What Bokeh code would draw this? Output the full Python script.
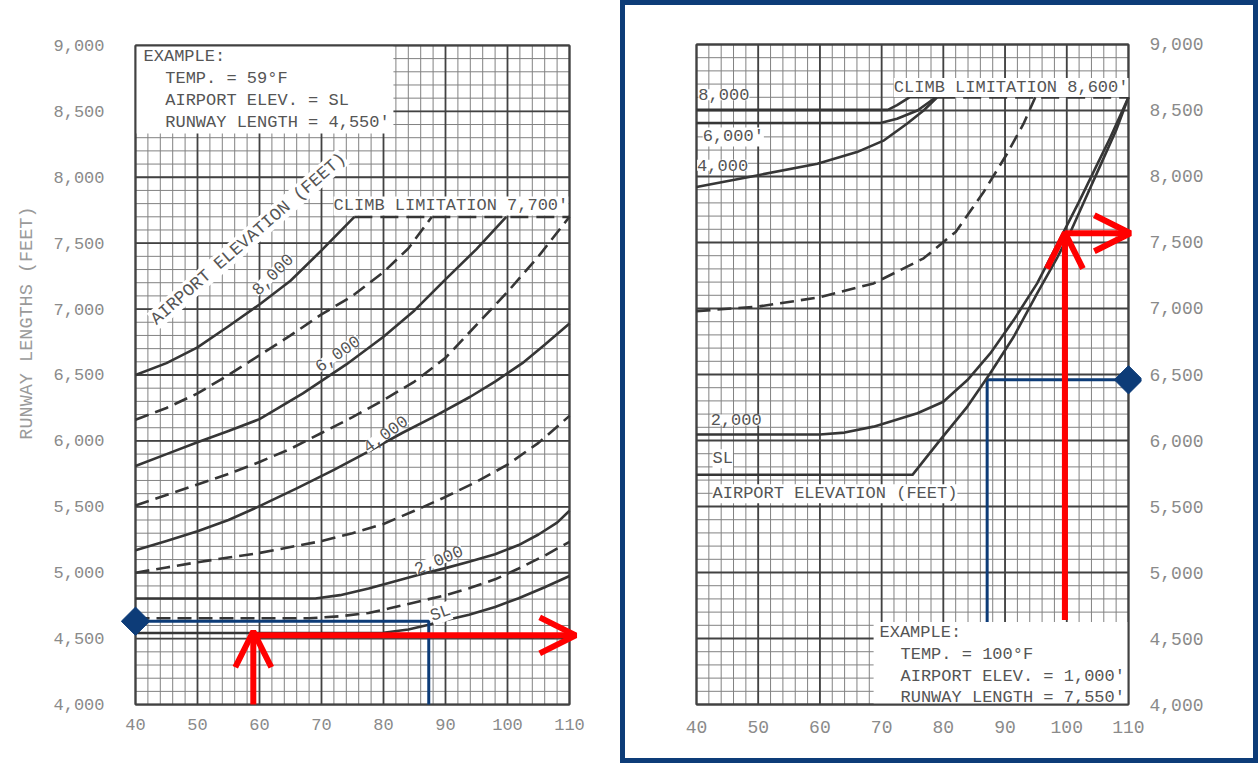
import numpy as np
from bokeh.plotting import figure
from bokeh.layouts import row
from bokeh.models import Label, Arrow, OpenHead, FixedTicker, NumeralTickFormatter, Title
from bokeh.embed import file_html
from bokeh.resources import INLINE

# ---------------- data ----------------
TEMP_TICKS = [40, 50, 60, 70, 80, 90, 100, 110]
LENGTH_TICKS = [4000, 4500, 5000, 5500, 6000, 6500, 7000, 7500, 8000, 8500, 9000]

# left chart : runway length (ft) vs temperature (F) per airport elevation
L_SL_TEMP = [40, 60, 80, 84, 87.3, 90, 93.8, 98, 101.8, 106, 110]
L_SL_LEN = [4543, 4543, 4545, 4570, 4606, 4640, 4682, 4740, 4807, 4890, 4975]
L_SLX_TEMP = [85, 110]
L_SLX_LEN = [4520, 4505]
L_1000_TEMP = [40, 55, 68, 73, 77.6, 81, 85.7, 90, 93.8, 98, 101.8, 106, 110]
L_1000_LEN = [4655, 4655, 4655, 4670, 4695, 4730, 4782, 4830, 4882, 4950, 5032, 5130, 5235]
L_2000_TEMP = [40, 55, 69, 73, 77.6, 81, 85.7, 90, 93.8, 98, 101.8, 105, 108, 110]
L_2000_LEN = [4805, 4805, 4805, 4830, 4880, 4925, 4985, 5035, 5083, 5140, 5210, 5290, 5380, 5470]
L_3000_TEMP = [40, 45, 50, 55, 60, 65, 70, 75, 80, 85, 90, 95, 100, 105, 110]
L_3000_LEN = [5000, 5040, 5080, 5115, 5150, 5195, 5240, 5300, 5370, 5470, 5575, 5690, 5820, 5985, 6190]
L_4000_TEMP = [40, 45, 50, 55, 60, 66, 72, 78, 83, 88, 94, 98, 102.4, 106, 110]
L_4000_LEN = [5170, 5240, 5315, 5400, 5505, 5640, 5780, 5930, 6060, 6180, 6335, 6450, 6590, 6730, 6890]
L_5000_TEMP = [40, 45, 50, 55, 60, 65, 70, 75, 80, 85, 90, 95, 100, 105, 110]
L_5000_LEN = [5510, 5590, 5670, 5750, 5840, 5940, 6060, 6180, 6310, 6450, 6630, 6880, 7130, 7400, 7700]
L_6000_TEMP = [40, 45, 50, 55, 60, 67, 74, 80, 85, 90, 95, 99.8]
L_6000_LEN = [5810, 5900, 5990, 6075, 6165, 6360, 6580, 6790, 6990, 7225, 7455, 7700]
L_7000_TEMP = [40, 45, 50, 55, 60, 65, 70, 75, 80, 84, 87.8]
L_7000_LEN = [6160, 6250, 6360, 6500, 6650, 6800, 6960, 7100, 7280, 7460, 7700]
L_8000_TEMP = [40, 45, 50, 55, 60, 65, 70, 75.3]
L_8000_LEN = [6500, 6590, 6710, 6870, 7035, 7215, 7445, 7700]
L_CLIMB_TEMP = [75.3, 110]
L_CLIMB_LEN = [7700, 7700]

# left example (59F, SL) and blue reading line
L_EX_TEMP = 59
L_EX_LEN = 4525
L_EX_TOP = 4556
L_BLUE_TEMP = 87.3
L_BLUE_LEN = 4632

# right chart
R_SL_TEMP = [40, 75, 79.5, 83.9, 87.6, 91.4, 95.2, 98.5, 100.6, 103, 105.5, 108, 110]
R_SL_LEN = [5740, 5740, 6005, 6257, 6509, 6786, 7114, 7390, 7580, 7830, 8090, 8350, 8600]
R_2000_TEMP = [40, 60, 64, 68.7, 75.8, 80, 83.9, 87.6, 91.4, 95.2, 99.5, 102, 104.5, 107, 110]
R_2000_LEN = [6045, 6045, 6060, 6105, 6206, 6294, 6458, 6660, 6912, 7190, 7580, 7810, 8050, 8290, 8600]
R_DASH_TEMP = [40, 50, 60, 68.7, 76.8, 82, 86.5, 90.3, 93, 94.9]
R_DASH_LEN = [6980, 7015, 7085, 7190, 7380, 7580, 7880, 8170, 8400, 8600]
R_4000_TEMP = [40, 50, 59.6, 66, 70.4, 74.1, 76.8, 79]
R_4000_LEN = [7920, 8010, 8097, 8185, 8274, 8400, 8500, 8600]
R_6000_TEMP = [40, 69.8, 72.5, 75.8, 78.8]
R_6000_LEN = [8405, 8405, 8437, 8500, 8600]
R_8000_TEMP = [40, 71, 72.5, 74.5, 79]
R_8000_LEN = [8505, 8505, 8540, 8600, 8600]
R_CLIMB_TEMP = [79, 110]
R_CLIMB_LEN = [8600, 8600]

R_EX_TEMP = 99.7
R_EX_LEN = 7570
R_EX_START = 4640
R_BLUE_TEMP = 87.1
R_BLUE_LEN = 6460
R_BOX_LEFT = 68.7
R_BOX_TOP = 4625

# ---------------- style ----------------
FONT = "Liberation Mono"
INK = "#363636"
MINOR = "#828282"
MAJOR = "#424242"
TEXT = "#555555"
TICK = "#8a8a8a"
RED = "#ff0000"
NAVY = "#0d3c78"


def make_fig(width, x_range, y_range, borders, y_loc, tick_size, xstand, ystand):
    p = figure(width=width, height=763, x_range=x_range, y_range=y_range,
               output_backend="svg", toolbar_location=None, y_axis_location=y_loc,
               min_border_left=borders[0], min_border_right=borders[1],
               min_border_top=borders[2], min_border_bottom=borders[3])
    p.xgrid.visible = False
    p.ygrid.visible = False
    p.outline_line_color = None
    p.background_fill_color = "white"
    for ax in (p.xaxis[0], p.yaxis[0]):
        ax.axis_line_color = None
        ax.major_tick_line_color = None
        ax.minor_tick_line_color = None
        ax.major_label_text_font = FONT
        ax.major_label_text_font_size = tick_size
        ax.major_label_text_color = TICK
    p.xaxis.ticker = FixedTicker(ticks=TEMP_TICKS)
    p.yaxis.ticker = FixedTicker(ticks=LENGTH_TICKS)
    p.yaxis.formatter = NumeralTickFormatter(format="0,0")
    p.xaxis.major_label_standoff = xstand
    p.yaxis.major_label_standoff = ystand
    return p


def draw_grid(p):
    mx = np.arange(TEMP_TICKS[0], TEMP_TICKS[-1] + 0.01, 2)
    my = np.arange(LENGTH_TICKS[0], LENGTH_TICKS[-1] + 0.1, 100)
    p.segment(x0=mx, y0=LENGTH_TICKS[0], x1=mx, y1=LENGTH_TICKS[-1], line_color=MINOR, line_width=1)
    p.segment(x0=TEMP_TICKS[0], y0=my, x1=TEMP_TICKS[-1], y1=my, line_color=MINOR, line_width=1)
    p.segment(x0=TEMP_TICKS, y0=LENGTH_TICKS[0], x1=TEMP_TICKS, y1=LENGTH_TICKS[-1], line_color=MAJOR, line_width=1.8)
    p.segment(x0=TEMP_TICKS[0], y0=LENGTH_TICKS, x1=TEMP_TICKS[-1], y1=LENGTH_TICKS, line_color=MAJOR, line_width=1.8)


def frame_border(p):
    p.quad(left=TEMP_TICKS[0], right=TEMP_TICKS[-1], bottom=LENGTH_TICKS[0], top=LENGTH_TICKS[-1],
           fill_color=None, line_color=MAJOR, line_width=2)


def curve(p, xs, ys, dashed=False):
    p.line(xs, ys, line_color=INK, line_width=2.6, line_join="round",
           line_dash="14 7" if dashed else "solid")


def label(p, x, y, text, angle=0, align="left", size="17px", color=TEXT, bg="white"):
    p.add_layout(Label(x=x, y=y, text=text, angle=angle, angle_units="deg",
                       text_align=align, text_baseline="middle", text_font=FONT,
                       text_font_size=size, text_color=color,
                       background_fill_color=bg))


def red_arrow(p, x0, y0, x1, y1):
    p.add_layout(Arrow(end=OpenHead(size=36, line_color=RED, line_width=6),
                       x_start=x0, y_start=y0, x_end=x1, y_end=y1,
                       line_color=RED, line_width=6))


# ---------------- left chart ----------------
p1 = make_fig(620, (37.258, 113.387), (3939.85, 9067.67), (118, 30, 30, 51), "left", "17px", 0, 8)
p1.add_layout(Title(text="RUNWAY LENGTHS (FEET)", align="right", offset=170, standoff=26,
                    text_font=FONT, text_font_size="18.5px", text_font_style="normal",
                    text_color="#9a9a9a"), "left")
draw_grid(p1)
p1.quad(left=40, right=81.6, bottom=8331, top=9000, fill_color="white", line_color=None)
frame_border(p1)

curve(p1, L_8000_TEMP, L_8000_LEN)
curve(p1, L_7000_TEMP, L_7000_LEN, True)
curve(p1, L_6000_TEMP, L_6000_LEN)
curve(p1, L_5000_TEMP, L_5000_LEN, True)
curve(p1, L_4000_TEMP, L_4000_LEN)
curve(p1, L_3000_TEMP, L_3000_LEN, True)
curve(p1, L_2000_TEMP, L_2000_LEN)
curve(p1, L_1000_TEMP, L_1000_LEN, True)
curve(p1, L_SL_TEMP, L_SL_LEN)
curve(p1, L_SLX_TEMP, L_SLX_LEN, True)
p1.line(L_CLIMB_TEMP, L_CLIMB_LEN, line_color=INK, line_width=2.8, line_dash="18 8")

label(p1, 41.3, 8917, "EXAMPLE:", bg=None)
label(p1, 44.8, 8752, "TEMP. = 59°F", bg=None)
label(p1, 44.8, 8579, "AIRPORT ELEV. = SL", bg=None)
label(p1, 44.8, 8414, "RUNWAY LENGTH = 4,550'", bg=None)
label(p1, 109.8, 7782, "CLIMB LIMITATION 7,700'", align="right")
label(p1, 58.2, 7534, "AIRPORT ELEVATION (FEET)", angle=41, align="center", size="17.5px")
label(p1, 62.1, 7263, "8,000", angle=45, align="center")
label(p1, 72.6, 6662, "6,000", angle=35, align="center")
label(p1, 80.3, 6053, "4,000", angle=36, align="center")
label(p1, 88.9, 5098, "2,000", angle=23, align="center")
label(p1, 89.2, 4692, "SL", angle=20, align="center")

p1.line([40, L_BLUE_TEMP, L_BLUE_TEMP], [L_BLUE_LEN, L_BLUE_LEN, LENGTH_TICKS[0]], line_color=NAVY, line_width=3)
p1.scatter([40], [L_BLUE_LEN], marker="square", size=20, angle=np.pi / 4, color=NAVY)
red_arrow(p1, L_EX_TEMP, LENGTH_TICKS[0], L_EX_TEMP, L_EX_TOP)
red_arrow(p1, L_EX_TEMP, L_EX_LEN, 111, L_EX_LEN)

# ---------------- right chart ----------------
p2 = make_fig(638, (38.217, 112.111), (3939.5, 9060.5), (65, 117, 36, 50), "right", "18px", 2, 2)
p2.border_fill_color = None
p2.styles = {"box-shadow": "inset 0 0 0 5px " + NAVY}
draw_grid(p2)
p2.line([R_BLUE_TEMP, R_BLUE_TEMP, 110], [LENGTH_TICKS[0], R_BLUE_LEN, R_BLUE_LEN], line_color=NAVY, line_width=3)
p2.quad(left=R_BOX_LEFT, right=110, bottom=4000, top=R_BOX_TOP, fill_color="white", line_color=None)
frame_border(p2)

curve(p2, R_8000_TEMP, R_8000_LEN)
curve(p2, R_6000_TEMP, R_6000_LEN)
curve(p2, R_4000_TEMP, R_4000_LEN)
curve(p2, R_DASH_TEMP, R_DASH_LEN, True)
curve(p2, R_2000_TEMP, R_2000_LEN)
curve(p2, R_SL_TEMP, R_SL_LEN)
p2.line(R_CLIMB_TEMP, R_CLIMB_LEN, line_color=INK, line_width=2.8, line_dash="18 8")

label(p2, 40.3, 8620, "8,000")
label(p2, 41.0, 8300, "6,000'")
label(p2, 40.1, 8085, "4,000")
label(p2, 110, 8675, "CLIMB LIMITATION 8,600'", align="right")
label(p2, 42.3, 6156, "2,000")
label(p2, 42.6, 5861, "SL")
label(p2, 42.6, 5596, "AIRPORT ELEVATION (FEET)")
label(p2, 69.65, 4545, "EXAMPLE:", bg=None)
label(p2, 73.06, 4378, "TEMP. = 100°F", bg=None)
label(p2, 73.06, 4212, "AIRPORT ELEV. = 1,000'", bg=None)
label(p2, 73.06, 4053, "RUNWAY LENGTH = 7,550'", bg=None)

p2.scatter([110], [R_BLUE_LEN], marker="square", size=20, angle=np.pi / 4, color=NAVY)
red_arrow(p2, R_EX_TEMP, R_EX_START, R_EX_TEMP, R_EX_LEN + 5)
red_arrow(p2, R_EX_TEMP, R_EX_LEN, 110.3, R_EX_LEN)

layout = row(p1, p2)
open("out.html", "w").write(file_html(layout, INLINE))
